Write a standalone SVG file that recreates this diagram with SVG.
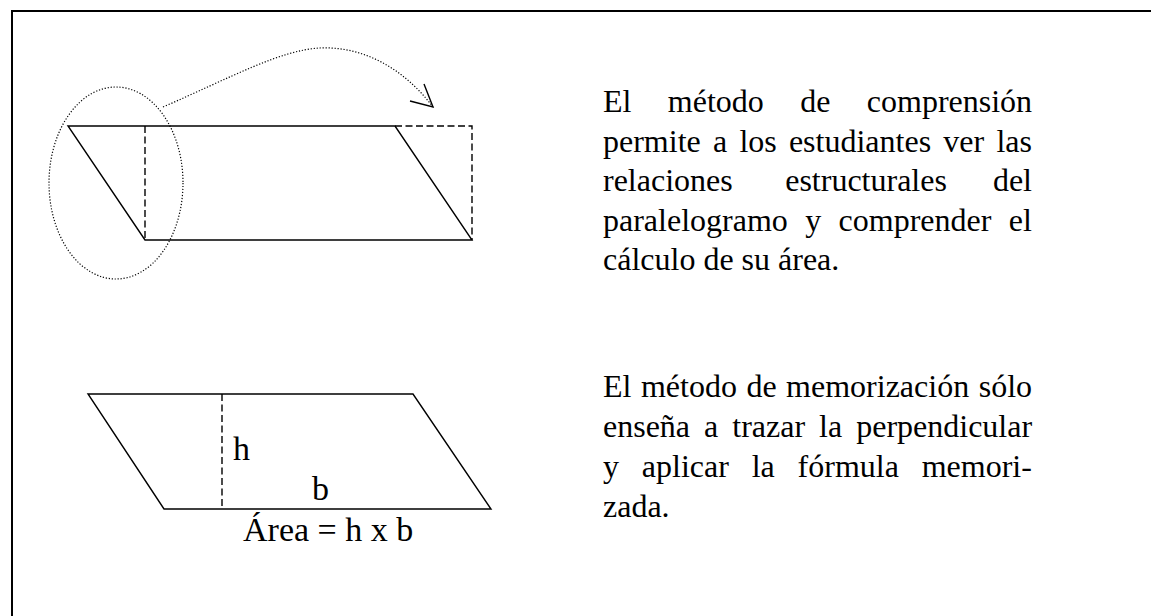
<svg xmlns="http://www.w3.org/2000/svg" width="1151" height="616" viewBox="0 0 1151 616">
<style>
.t{font-family:"Liberation Serif","Times New Roman",serif;font-size:32px;fill:#000}
.l{font-size:34px}
.s{fill:none;stroke:#000;stroke-width:1.4}
.d{fill:none;stroke:#000;stroke-width:1.4;stroke-dasharray:7 3.5}
.o{fill:none;stroke:#000;stroke-width:1.2;stroke-dasharray:1.2 1.8}
</style>
<rect width="1151" height="616" fill="#fff"/>
<g id="frame">
<path d="M12,616 V11 H1151" fill="none" stroke="#000" stroke-width="2"/>
</g>
<g id="top-parallelogram">
<path class="s" d="M68,126 H395 L472,240 H145 Z"/>
<path class="d" d="M145,126 V240 M395,126 H472 V240"/>
</g>
<g id="ellipse-cut">
<ellipse class="o" cx="116" cy="183" rx="67" ry="96"/>
</g>
<g id="connectors">
<path class="o" d="M163,107 C230,78 280,50 320,48 C365,46 405,70 433,107"/>
<path class="s" d="M424,84 L433,107 L410,101"/>
</g>
<g id="bottom-parallelogram">
<path class="s" d="M88,394 H413 L491,509 H164 Z"/>
<path class="d" d="M222,394 V509"/>
<text class="t l" x="233" y="460">h</text>
<text class="t l" x="312" y="500">b</text>
<text class="t l" x="243" y="541">Área = h x b</text>
</g>
<g id="text-comprension">
<text class="t" y="112"><tspan x="603">El</tspan><tspan x="667.8">método</tspan><tspan x="800.2">de</tspan><tspan x="866.8">comprensión</tspan></text>
<text class="t" y="151.5"><tspan x="603">permite</tspan><tspan x="713">a</tspan><tspan x="739.4">los</tspan><tspan x="788.9">estudiantes</tspan><tspan x="943.3">ver</tspan><tspan x="996.4">las</tspan></text>
<text class="t" y="191"><tspan x="603">relaciones</tspan><tspan x="785.2">estructurales</tspan><tspan x="992.9">del</tspan></text>
<text class="t" y="230.5"><tspan x="603">paralelogramo</tspan><tspan x="805.2">y</tspan><tspan x="838.6">comprender</tspan><tspan x="1008.8">el</tspan></text>
<text class="t" x="603" y="270">cálculo de su área.</text>
</g>
<g id="text-memorizacion">
<text class="t" y="396.5"><tspan x="603">El</tspan><tspan x="640.9">método</tspan><tspan x="746.4">de</tspan><tspan x="786.1">memorización</tspan><tspan x="978.7">sólo</tspan></text>
<text class="t" y="436.5"><tspan x="603">enseña</tspan><tspan x="704.1">a</tspan><tspan x="732.3">trazar</tspan><tspan x="819.1">la</tspan><tspan x="856.2">perpendicular</tspan></text>
<text class="t" y="476.5"><tspan x="603">y</tspan><tspan x="641.8">aplicar</tspan><tspan x="751.7">la</tspan><tspan x="797.6">fórmula</tspan><tspan x="921.7">memori-</tspan></text>
<text class="t" x="603" y="516.5">zada.</text>
</g>
</svg>
